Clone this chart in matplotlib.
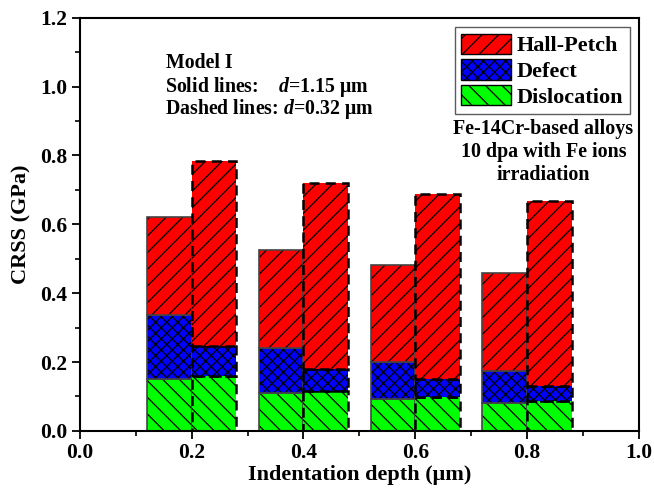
import numpy as np
import matplotlib
matplotlib.use("Agg")
import matplotlib.pyplot as plt
from matplotlib.patches import Patch

# indentation depth (um) and CRSS components (GPa), stacked bottom -> top
depth = [0.2, 0.4, 0.6, 0.8]
components = ["Dislocation", "Defect", "Hall-Petch"]

# solid bars: d = 1.15 um (cumulative tops)
solid_disloc = [0.150, 0.110, 0.092, 0.082]
solid_defect = [0.336, 0.240, 0.200, 0.175]
solid_total = [0.620, 0.525, 0.481, 0.459]

# dashed bars: d = 0.32 um (cumulative tops)
dash_disloc = [0.160, 0.116, 0.098, 0.086]
dash_defect = [0.246, 0.180, 0.151, 0.131]
dash_total = [0.783, 0.720, 0.688, 0.669]

colors = {"Dislocation": "#00ff00", "Defect": "#0000ff", "Hall-Petch": "#ff0000"}
hatches = {"Dislocation": "\\\\", "Defect": "xxx", "Hall-Petch": "//"}

model_lines = ["Model I", "Solid lines:    $d$=1.15 μm", "Dashed lines: $d$=0.32 μm"]

plt.rcParams["font.family"] = ["Liberation Serif", "DejaVu Serif"]
plt.rcParams["font.weight"] = "bold"
plt.rcParams["mathtext.fontset"] = "custom"
plt.rcParams["mathtext.it"] = "Liberation Serif:italic:bold"
plt.rcParams["mathtext.rm"] = "Liberation Serif:bold"
plt.rcParams["hatch.linewidth"] = 0.9

fig = plt.figure(figsize=(6.54, 4.93), dpi=100)
ax = fig.add_axes([0.122, 0.126, 0.855, 0.838])

width = 0.08


def draw_stack(x, disloc, defect, total, ls, lw, ec):
    tops = [disloc, defect, total]
    bottoms = [np.zeros(len(x)), np.array(disloc), np.array(defect)]
    for comp, top, bot in zip(components, tops, bottoms):
        h = np.array(top) - bot
        ax.bar(x, h, width, bottom=bot, color=colors[comp], hatch=hatches[comp],
               edgecolor="black", linewidth=0, align="edge")
        ax.bar(x, h, width, bottom=bot, fill=False, edgecolor=ec,
               linewidth=lw, linestyle=ls, align="edge")


x_solid = np.array(depth) - width
x_dash = np.array(depth)
draw_stack(x_solid, solid_disloc, solid_defect, solid_total, "-", 1.2, "#444444")
draw_stack(x_dash, dash_disloc, dash_defect, dash_total, (0, (4, 2.5)), 1.8, "black")

ax.set_xlim(0, 1.0)
ax.set_ylim(0, 1.2)
ax.set_xticks(np.arange(0, 1.01, 0.2))
ax.set_xticks(np.arange(0.1, 1.0, 0.2), minor=True)
ax.set_yticks(np.arange(0, 1.21, 0.2))
ax.set_yticks(np.arange(0.1, 1.2, 0.2), minor=True)
ax.xaxis.set_major_formatter(matplotlib.ticker.FormatStrFormatter("%.1f"))
ax.yaxis.set_major_formatter(matplotlib.ticker.FormatStrFormatter("%.1f"))
ax.tick_params(which="major", direction="out", length=6, width=1.3,
               labelsize=15.5, pad=3)
ax.tick_params(which="minor", direction="out", length=3.5, width=1.2)
for s in ax.spines.values():
    s.set_linewidth(1.5)

ax.set_xlabel("Indentation depth (μm)", fontsize=16, fontweight="bold", labelpad=1)
ax.set_ylabel("CRSS (GPa)", fontsize=16, fontweight="bold", labelpad=6)

handles = [Patch(facecolor=colors[c], hatch=hatches[c], edgecolor="black",
                 linewidth=1.0, label=c) for c in ["Hall-Petch", "Defect", "Dislocation"]]
leg = ax.legend(handles=handles, loc="upper right", bbox_to_anchor=(0.984, 0.978),
                fontsize=16, handlelength=2.25, handleheight=1.05,
                handletextpad=0.25, labelspacing=0.12, borderpad=0.3,
                fancybox=False, frameon=True, borderaxespad=0)
leg.get_frame().set_edgecolor("#333333")
leg.get_frame().set_linewidth(1.0)
for t in leg.get_texts():
    t.set_fontweight("bold")

ax.text(0.829, 0.755, "Fe-14Cr-based alloys\n10 dpa with Fe ions\nirradiation",
        transform=ax.transAxes, ha="center", va="top", fontsize=14.4,
        fontweight="bold", linespacing=1.2)

for line, xx, yy in zip(model_lines, [0.154, 0.153, 0.153], [0.879, 0.821, 0.766]):
    ax.text(xx, yy, line, transform=ax.transAxes, ha="left", va="baseline",
            fontsize=14.3, fontweight="bold")

fig.savefig("out.png", dpi=100)
